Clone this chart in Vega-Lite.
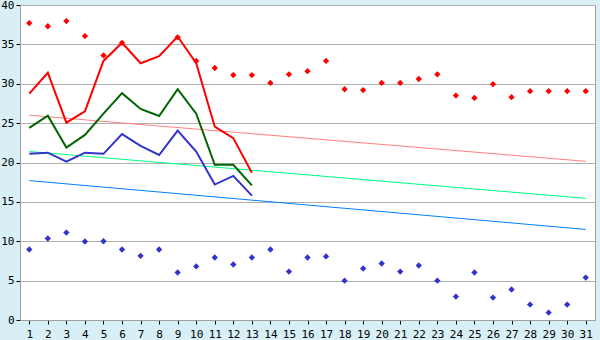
{
  "$schema": "https://vega.github.io/schema/vega-lite/v6.json",
  "width": 575,
  "height": 315,
  "autosize": "none",
  "padding": {"left": 20, "top": 5, "right": 5, "bottom": 20},
  "background": "#d9eff6",
  "config": {
    "view": {"fill": "white", "stroke": "#a0a0a0", "strokeWidth": 1},
    "axis": {"labelFont": "DejaVu Sans Mono", "labelFontSize": 11, "labelColor": "black", "domainColor": "#a0a0a0", "tickColor": "black", "tickSize": 4, "title": null}
  },
  "datasets": {
    "lines": [
      {"day": 1, "v": 28.75, "s": "max"}, {"day": 2, "v": 31.4, "s": "max"}, {"day": 3, "v": 25.06, "s": "max"}, {"day": 4, "v": 26.5, "s": "max"}, {"day": 5, "v": 32.9, "s": "max"}, {"day": 6, "v": 35.2, "s": "max"}, {"day": 7, "v": 32.6, "s": "max"}, {"day": 8, "v": 33.5, "s": "max"}, {"day": 9, "v": 36.0, "s": "max"}, {"day": 10, "v": 32.6, "s": "max"}, {"day": 11, "v": 24.55, "s": "max"}, {"day": 12, "v": 23.1, "s": "max"}, {"day": 13, "v": 18.7, "s": "max"},
      {"day": 1, "v": 24.4, "s": "mean"}, {"day": 2, "v": 25.95, "s": "mean"}, {"day": 3, "v": 21.9, "s": "mean"}, {"day": 4, "v": 23.5, "s": "mean"}, {"day": 5, "v": 26.2, "s": "mean"}, {"day": 6, "v": 28.8, "s": "mean"}, {"day": 7, "v": 26.8, "s": "mean"}, {"day": 8, "v": 25.9, "s": "mean"}, {"day": 9, "v": 29.3, "s": "mean"}, {"day": 10, "v": 26.2, "s": "mean"}, {"day": 11, "v": 19.7, "s": "mean"}, {"day": 12, "v": 19.7, "s": "mean"}, {"day": 13, "v": 17.1, "s": "mean"},
      {"day": 1, "v": 21.1, "s": "min"}, {"day": 2, "v": 21.25, "s": "min"}, {"day": 3, "v": 20.1, "s": "min"}, {"day": 4, "v": 21.25, "s": "min"}, {"day": 5, "v": 21.1, "s": "min"}, {"day": 6, "v": 23.6, "s": "min"}, {"day": 7, "v": 22.1, "s": "min"}, {"day": 8, "v": 20.95, "s": "min"}, {"day": 9, "v": 24.05, "s": "min"}, {"day": 10, "v": 21.4, "s": "min"}, {"day": 11, "v": 17.2, "s": "min"}, {"day": 12, "v": 18.3, "s": "min"}, {"day": 13, "v": 15.8, "s": "min"}
    ],
    "trends": [
      {"day": 1, "v": 26.0, "s": "tmax"}, {"day": 31, "v": 20.15, "s": "tmax"},
      {"day": 1, "v": 21.4, "s": "tmean"}, {"day": 31, "v": 15.45, "s": "tmean"},
      {"day": 1, "v": 17.7, "s": "tmin"}, {"day": 31, "v": 11.5, "s": "tmin"}
    ],
    "records": [
      {"day": 1, "v": 37.7, "s": "rmax"}, {"day": 2, "v": 37.3, "s": "rmax"}, {"day": 3, "v": 37.96, "s": "rmax"}, {"day": 4, "v": 36.05, "s": "rmax"}, {"day": 5, "v": 33.6, "s": "rmax"}, {"day": 6, "v": 35.2, "s": "rmax"}, {"day": 9, "v": 35.9, "s": "rmax"}, {"day": 10, "v": 32.9, "s": "rmax"}, {"day": 11, "v": 32.0, "s": "rmax"}, {"day": 12, "v": 31.1, "s": "rmax"}, {"day": 13, "v": 31.1, "s": "rmax"}, {"day": 14, "v": 30.1, "s": "rmax"}, {"day": 15, "v": 31.2, "s": "rmax"}, {"day": 16, "v": 31.6, "s": "rmax"}, {"day": 17, "v": 32.9, "s": "rmax"}, {"day": 18, "v": 29.3, "s": "rmax"}, {"day": 19, "v": 29.2, "s": "rmax"}, {"day": 20, "v": 30.1, "s": "rmax"}, {"day": 21, "v": 30.1, "s": "rmax"}, {"day": 22, "v": 30.6, "s": "rmax"}, {"day": 23, "v": 31.2, "s": "rmax"}, {"day": 24, "v": 28.5, "s": "rmax"}, {"day": 25, "v": 28.2, "s": "rmax"}, {"day": 26, "v": 29.95, "s": "rmax"}, {"day": 27, "v": 28.3, "s": "rmax"}, {"day": 28, "v": 29.06, "s": "rmax"}, {"day": 29, "v": 29.06, "s": "rmax"}, {"day": 30, "v": 29.06, "s": "rmax"}, {"day": 31, "v": 29.06, "s": "rmax"},
      {"day": 1, "v": 8.95, "s": "rmin"}, {"day": 2, "v": 10.35, "s": "rmin"}, {"day": 3, "v": 11.1, "s": "rmin"}, {"day": 4, "v": 9.97, "s": "rmin"}, {"day": 5, "v": 10.0, "s": "rmin"}, {"day": 6, "v": 8.95, "s": "rmin"}, {"day": 7, "v": 8.15, "s": "rmin"}, {"day": 8, "v": 8.95, "s": "rmin"}, {"day": 9, "v": 6.03, "s": "rmin"}, {"day": 10, "v": 6.8, "s": "rmin"}, {"day": 11, "v": 7.94, "s": "rmin"}, {"day": 12, "v": 7.05, "s": "rmin"}, {"day": 13, "v": 7.94, "s": "rmin"}, {"day": 14, "v": 8.95, "s": "rmin"}, {"day": 15, "v": 6.15, "s": "rmin"}, {"day": 16, "v": 7.94, "s": "rmin"}, {"day": 17, "v": 8.07, "s": "rmin"}, {"day": 18, "v": 5.0, "s": "rmin"}, {"day": 19, "v": 6.54, "s": "rmin"}, {"day": 20, "v": 7.17, "s": "rmin"}, {"day": 21, "v": 6.15, "s": "rmin"}, {"day": 22, "v": 6.92, "s": "rmin"}, {"day": 23, "v": 5.0, "s": "rmin"}, {"day": 24, "v": 2.97, "s": "rmin"}, {"day": 25, "v": 6.03, "s": "rmin"}, {"day": 26, "v": 2.85, "s": "rmin"}, {"day": 27, "v": 3.87, "s": "rmin"}, {"day": 28, "v": 1.96, "s": "rmin"}, {"day": 29, "v": 0.94, "s": "rmin"}, {"day": 30, "v": 1.96, "s": "rmin"}, {"day": 31, "v": 5.39, "s": "rmin"}
    ]
  },
  "encoding": {
    "x": {
      "field": "day",
      "type": "ordinal",
      "scale": {"type": "point", "padding": 0.5, "domain": [1,2,3,4,5,6,7,8,9,10,11,12,13,14,15,16,17,18,19,20,21,22,23,24,25,26,27,28,29,30,31]},
      "axis": {"labelAngle": 0, "grid": false, "labelPadding": 4}
    },
    "y": {
      "field": "v",
      "type": "quantitative",
      "scale": {"domain": [0, 40], "nice": false, "zero": false},
      "axis": {"values": [0,5,10,15,20,25,30,35,40], "grid": true, "gridColor": "#b0b0b0", "labelPadding": 2}
    }
  },
  "layer": [
    {
      "data": {"name": "trends"},
      "mark": {"type": "line", "strokeWidth": 1},
      "encoding": {
        "color": {"field": "s", "type": "nominal", "scale": {"domain": ["tmax", "tmean", "tmin"], "range": ["#ff8080", "#00ff80", "#0080ff"]}, "legend": null}
      }
    },
    {
      "data": {"name": "lines"},
      "mark": {"type": "line", "strokeWidth": 2},
      "encoding": {
        "stroke": {"field": "s", "type": "nominal", "scale": {"domain": ["max", "mean", "min"], "range": ["#ff0000", "#006400", "#3333cc"]}, "legend": null}
      }
    },
    {
      "data": {"name": "records"},
      "mark": {"type": "point", "shape": "diamond", "filled": true, "size": 40, "opacity": 1},
      "encoding": {
        "fill": {"field": "s", "type": "nominal", "scale": {"domain": ["rmax", "rmin"], "range": ["#ff0000", "#3333cc"]}, "legend": null}
      }
    }
  ]
}
